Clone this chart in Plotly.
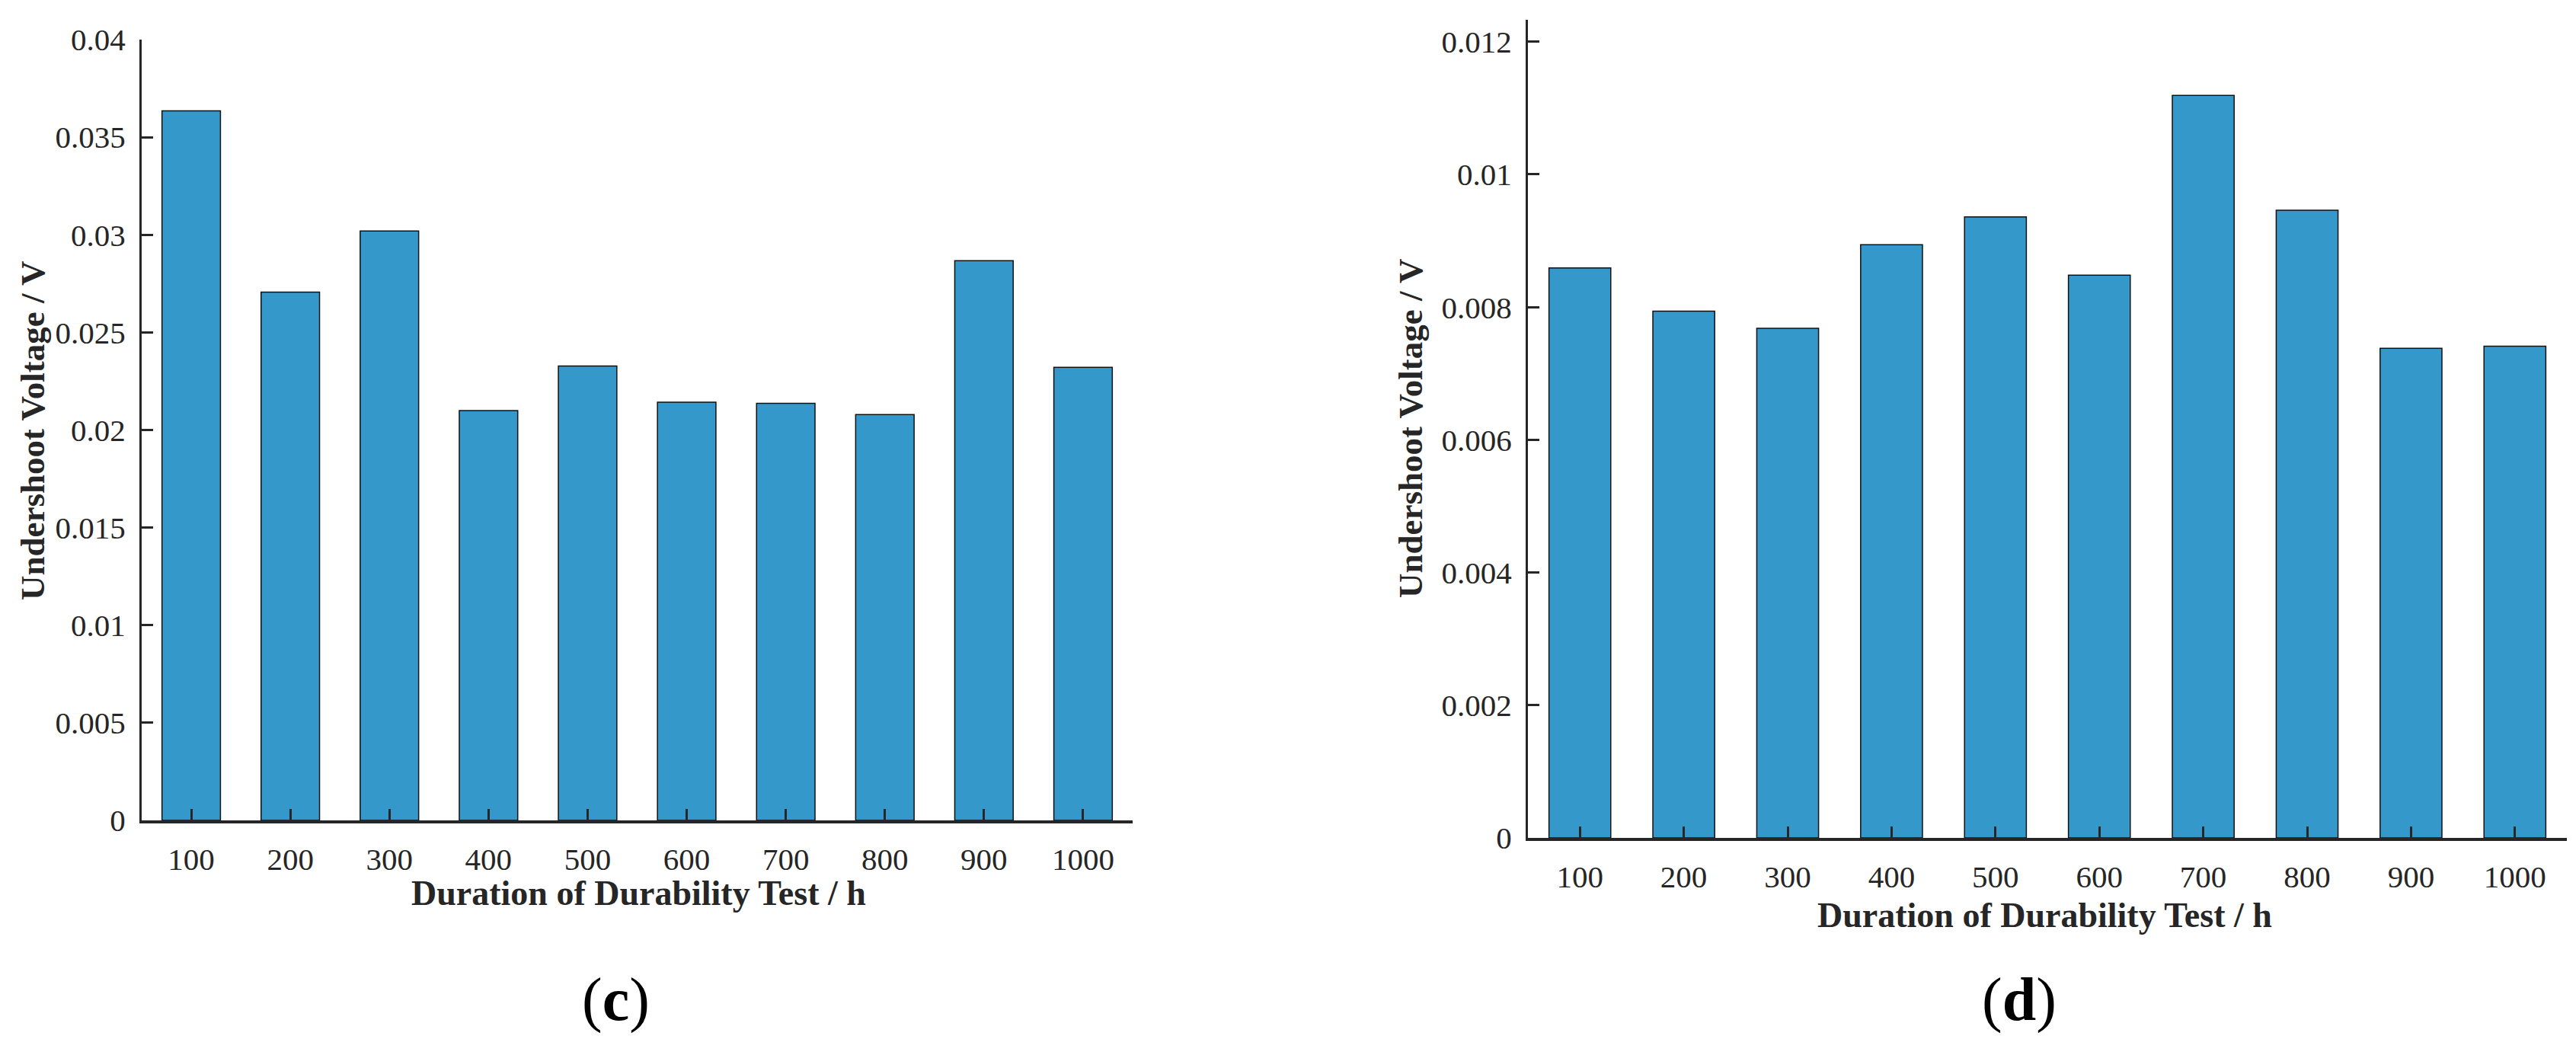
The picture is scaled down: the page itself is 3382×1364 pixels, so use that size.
import plotly.graph_objects as go

# ---------------- data ----------------
durations = ["100", "200", "300", "400", "500", "600", "700", "800", "900", "1000"]

undershoot_c = [0.03635, 0.02706, 0.0302, 0.0210, 0.02328,
                0.02142, 0.02137, 0.02079, 0.02867, 0.02321]
undershoot_d = [0.00859, 0.00794, 0.00768, 0.00894, 0.00936,
                0.00848, 0.01119, 0.00946, 0.00738, 0.00741]

yticks_c = [0, 0.005, 0.01, 0.015, 0.02, 0.025, 0.03, 0.035, 0.04]
yticktext_c = ["0", "0.005", "0.01", "0.015", "0.02", "0.025", "0.03", "0.035", "0.04"]
yticks_d = [0, 0.002, 0.004, 0.006, 0.008, 0.01, 0.012]
yticktext_d = ["0", "0.002", "0.004", "0.006", "0.008", "0.01", "0.012"]

x_title = "Duration of Durability Test / h"
y_title = "Undershoot Voltage / V"
panel_labels = ["(<b>c</b>)", "(<b>d</b>)"]

# ---------------- styling ----------------
W, H = 3382, 1364
BAR = "#3498CB"
AX = "#262626"
FONT = "Liberation Serif"

def px_x(p):
    return p / W

def px_y(p):
    return 1 - p / H

fig = go.Figure()

fig.add_trace(go.Bar(x=durations, y=undershoot_c, xaxis="x", yaxis="y",
                     marker=dict(color=BAR, line=dict(color="#111111", width=1.5)),
                     width=0.59, showlegend=False))
fig.add_trace(go.Bar(x=durations, y=undershoot_d, xaxis="x2", yaxis="y2",
                     marker=dict(color=BAR, line=dict(color="#111111", width=1.5)),
                     width=0.595, showlegend=False))

common_x = dict(type="category", range=[-0.5, 9.5], showline=True, linecolor=AX,
                linewidth=4, ticks="inside", ticklen=15, tickwidth=3, tickcolor=AX,
                showgrid=False, zeroline=False, ticklabelstandoff=12, automargin=False,
                tickfont=dict(family=FONT, size=41, color=AX))
common_y = dict(showline=True, linecolor=AX, linewidth=3, ticks="inside",
                ticklen=15, tickwidth=3, tickcolor=AX, showgrid=False,
                zeroline=False, ticklabelstandoff=10, automargin=False,
                tickfont=dict(family=FONT, size=41, color=AX))

fig.update_layout(
    width=W, height=H,
    margin=dict(l=0, r=0, t=0, b=0, pad=0),
    paper_bgcolor="white", plot_bgcolor="white",
    bargap=0.4,
    xaxis=dict(domain=[px_x(186), px_x(1487)], anchor="y", **common_x),
    yaxis=dict(domain=[px_y(1077), px_y(52)], anchor="x", range=[0, 0.04],
               tickvals=yticks_c, ticktext=yticktext_c, **common_y),
    xaxis2=dict(domain=[px_x(2006), px_x(3370)], anchor="y2", **common_x),
    yaxis2=dict(domain=[px_y(1100), px_y(26)], anchor="x2", range=[0, 0.01233],
                tickvals=yticks_d, ticktext=yticktext_d, **common_y),
)

title_font = dict(family=FONT, size=45, color=AX)
annotations = [
    dict(text="<b>" + y_title + "</b>", x=px_x(43), y=px_y(566), textangle=-90,
         xanchor="center", yanchor="middle", font=title_font),
    dict(text="<b>" + y_title + "</b>", x=px_x(1852), y=px_y(563), textangle=-90,
         xanchor="center", yanchor="middle", font=title_font),
    dict(text="<b>" + x_title + "</b>", x=px_x(838), y=px_y(1172),
         xanchor="center", yanchor="middle", font=dict(family=FONT, size=46, color=AX)),
    dict(text="<b>" + x_title + "</b>", x=px_x(2684), y=px_y(1201),
         xanchor="center", yanchor="middle", font=dict(family=FONT, size=46, color=AX)),
    dict(text=panel_labels[0], x=px_x(808), y=px_y(1312), xanchor="center",
         yanchor="middle", font=dict(family=FONT, size=80, color="black")),
    dict(text=panel_labels[1], x=px_x(2651), y=px_y(1312), xanchor="center",
         yanchor="middle", font=dict(family=FONT, size=80, color="black")),
]
for a in annotations:
    a.update(xref="paper", yref="paper", showarrow=False)
fig.update_layout(annotations=annotations)

fig.write_html("out.html",
               config={"displayModeBar": False},
               post_script="document.body.style.margin='0';document.body.style.padding='0';")
